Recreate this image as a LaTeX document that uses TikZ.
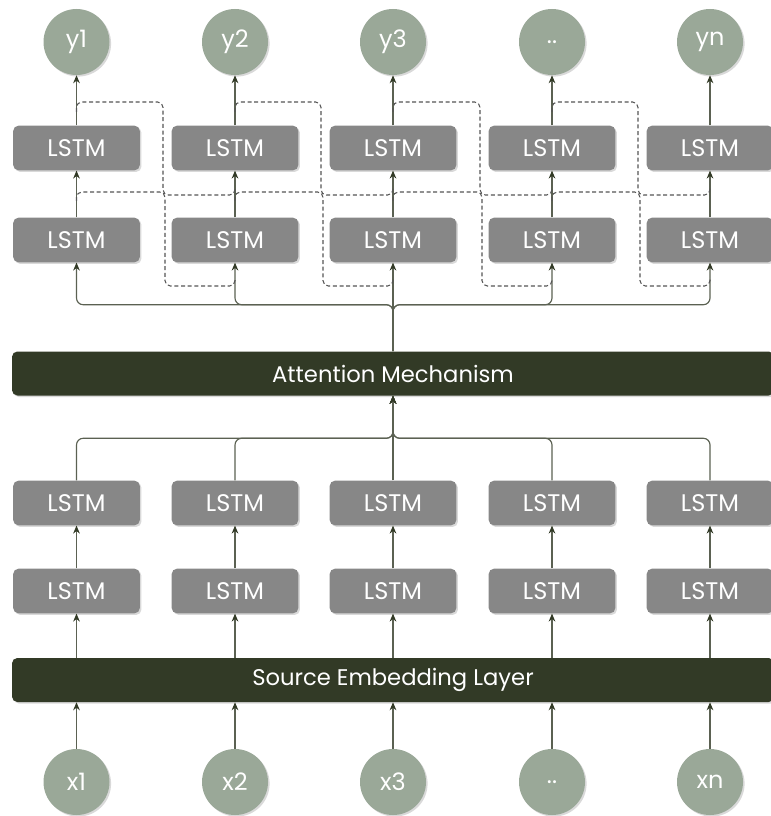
\documentclass[tikz,border=0pt]{standalone}
\usepackage{fontspec}
\setmainfont{Poppins}
\usepackage{xcolor}
\definecolor{BarDark}{HTML}{323A26}
\definecolor{NodeSage}{HTML}{9AA898}
\definecolor{CellGray}{HTML}{878787}
\definecolor{LinkGray}{HTML}{5B6152}
\definecolor{DashGray}{HTML}{555555}
\usepackage{tikz}
\usetikzlibrary{calc, arrows.meta, shadows, positioning}

\begin{document}
\begin{tikzpicture}[x=0.75pt, y=-0.75pt,
    shade/.style={drop shadow={shadow xshift=1.2pt, shadow yshift=-1.2pt, fill=black!25, opacity=0.6}},
    cell/.style={rectangle, rounded corners=4pt, fill=CellGray, shade, text=white,
      minimum width=95pt, minimum height=33.5pt, inner sep=0pt,
      font=\fontsize{18}{20}\selectfont},
    token/.style={circle, fill=NodeSage, shade, text=white, minimum size=49.5pt,
      inner sep=0pt, font=\fontsize{18}{20}\selectfont},
    band/.style={rectangle, rounded corners=4pt, fill=BarDark, shade, text=white,
      minimum width=571.5pt, minimum height=33pt, inner sep=0pt,
      font=\fontsize{17}{20}\selectfont},
    link/.style={draw=LinkGray, line width=0.85pt,
      -{Stealth[length=6pt, width=5pt, color=BarDark]}},
    recur/.style={draw=DashGray, line width=0.8pt, dash pattern=on 3pt off 2pt,
      rounded corners=4pt}]
  \useasboundingbox (0,0) rectangle (770,816);

  % Bars
  \node[band] (att) at (393,373.5) {Attention Mechanism};
  \node[band] (emb) at (393,680) {Source Embedding Layer};

  % Junction points
  \coordinate (jhi) at ($(att.north)+(0,-46.5)$);
  \coordinate (jlo) at ($(att.south)+(0,42.5)$);

  % Columns: decoder on top, encoder below
  \foreach \i/\cx/\yl/\xl in {1/76.5/y1/x1, 2/235/y2/x2, 3/393/y3/x3,
                             4/552/{..}/{..}, 5/710/yn/xn} {
    \node[token] (y\i)  at (\cx,42)  {\yl};
    \node[cell]  (dt\i) at (\cx,148) {LSTM};
    \node[cell]  (db\i) at (\cx,240) {LSTM};
    \node[cell]  (et\i) at (\cx,503) {LSTM};
    \node[cell]  (eb\i) at (\cx,591) {LSTM};
    \node[token] (x\i)  at (\cx,782) {\xl};
    % Encoder stack
    \draw[link] (x\i.north) -- (x\i.north |- emb.south);
    \draw[link] (eb\i.south |- emb.north) -- (eb\i.south);
    \draw[link] (eb\i.north) -- (et\i.south);
    % Decoder stack
    \draw[link] (db\i.north) -- (dt\i.south);
    \draw[link] (dt\i.north) -- (y\i.south);
  }

  % Encoder outputs into the attention
  \foreach \i in {1,2,4,5}
    \draw[link, rounded corners=5pt] (et\i.north) |- (jlo) -- (att.south);
  \draw[link] (et3.north) -- (att.south);

  % Attention out to the decoder
  \foreach \i in {1,2,4,5}
    \draw[link, rounded corners=5pt] (att.north) -- (jhi) -| (db\i.south);
  \draw[link] (att.north) -- (db3.south);

  % Recurrent links between time steps
  \foreach \i/\cx/\nx in {1/76.5/235, 2/235/393, 3/393/552, 4/552/710} {
    \coordinate (ru\i) at (\cx,112);
    \coordinate (rv\i) at (\nx,187);
    \coordinate (rl\i) at (\cx,201);
    \coordinate (rw\i) at (\nx,278);
    \draw[recur] (ru\i) |- ({\nx-72},102) |- (\nx,195) -- (rv\i);
    \draw[recur] (rl\i) |- ({\nx-70},192) |- (\nx,286) -- (rw\i);
  }
\end{tikzpicture}
\end{document}
